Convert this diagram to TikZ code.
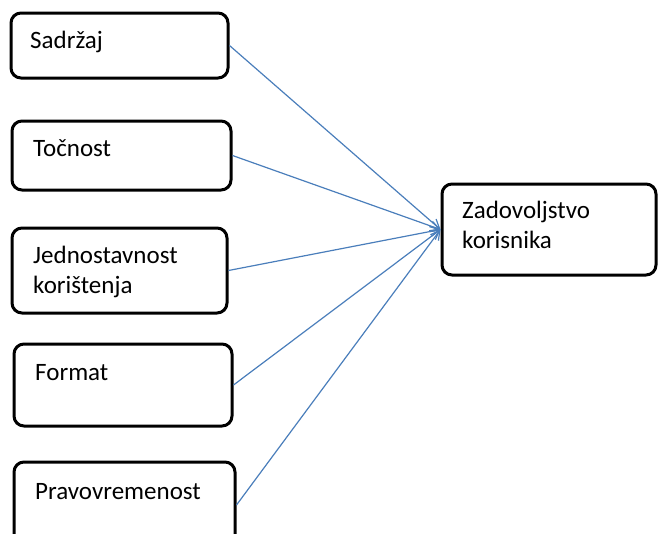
\documentclass[tikz,border=0pt]{standalone}
\usepackage{fontspec}
\setmainfont{Carlito}
\usetikzlibrary{arrows.meta}
\definecolor{linkblue}{HTML}{4A7EBB}
\begin{document}
\begin{tikzpicture}[x=1pt,y=-1pt,
  boxnode/.style={draw=black,line width=3pt,rounded corners=10pt,rectangle,inner sep=0pt},
  lbl/.style={anchor=base west,inner sep=0pt,font=\fontsize{25}{30}\selectfont},
  link/.style={draw=linkblue,line width=1.2pt,-{Straight Barb[length=9pt,width=10pt,line width=1.2pt]}}]
\useasboundingbox (0,0) rectangle (658,533);
\clip (0,0) rectangle (658,533);
\node[boxnode,minimum width=217pt,minimum height=65pt] (b1) at (119.5,45.5) {};
\node[boxnode,minimum width=219pt,minimum height=69pt] (b2) at (121.5,155.5) {};
\node[boxnode,minimum width=215pt,minimum height=85pt] (b3) at (119.5,270.5) {};
\node[boxnode,minimum width=218pt,minimum height=82pt] (b4) at (123,385) {};
\node[boxnode,minimum width=221pt,minimum height=86pt] (b5) at (124.5,505) {};
\node[boxnode,minimum width=214pt,minimum height=91pt] (t) at (549,229.5) {};
\node[lbl] (l1) at (30,48) {Sadržaj};
\node[lbl] (l2) at (33,156) {Točnost};
\node[lbl] (l3a) at (33,263) {Jednostavnost};
\node[lbl] (l3b) at (33,293) {korištenja};
\node[lbl] (l4) at (35,380) {Format};
\node[lbl] (l5) at (35,499) {Pravovremenost};
\node[lbl] (lta) at (462,218) {Zadovoljstvo};
\node[lbl] (ltb) at (462,248) {korisnika};
\draw[link] (b1.east) -- (t.west);
\draw[link] (b2.east) -- (t.west);
\draw[link] (b3.east) -- (t.west);
\draw[link] (b4.east) -- (t.west);
\draw[link] (b5.east) -- (t.west);
\end{tikzpicture}
\end{document}
